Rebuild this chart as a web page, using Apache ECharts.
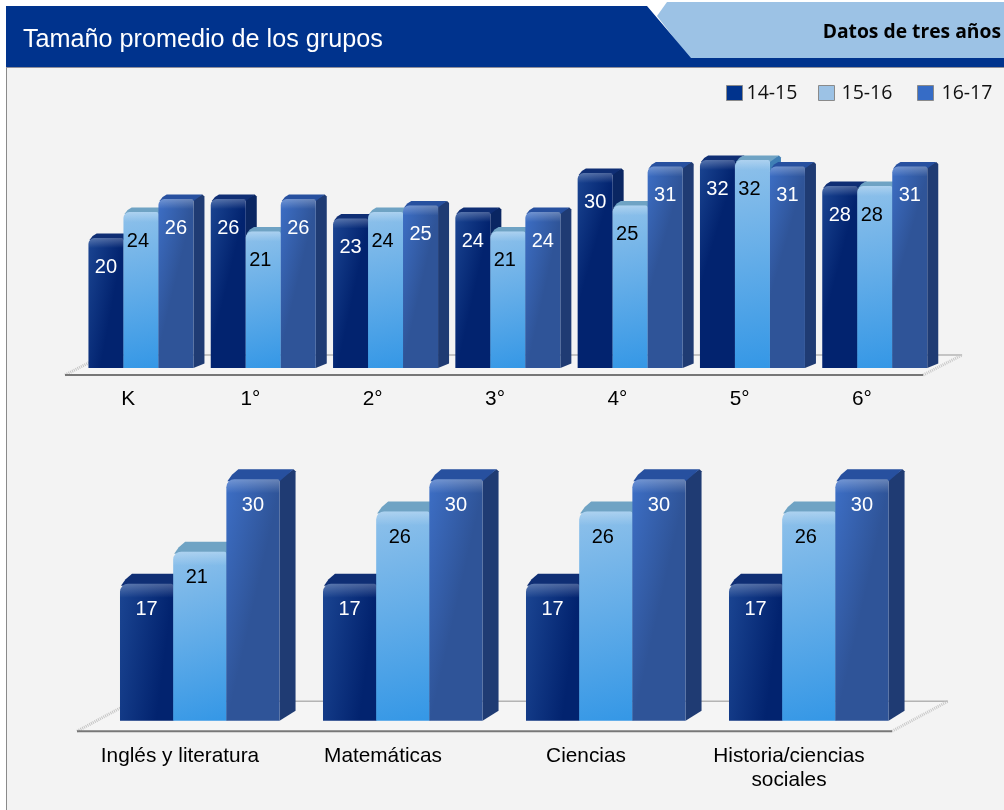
<!DOCTYPE html>
<html><head><meta charset="utf-8">
<style>html,body{margin:0;padding:0;background:#fff}#c{width:1004px;height:810px}</style>
<script src="https://cdn.jsdelivr.net/npm/echarts@6/dist/echarts.min.js"></script>
</head><body><div id="c"></div>
<script>
const seriesNames = ['14-15','15-16','16-17'];
const gradeCategories = ['K','1°','2°','3°','4°','5°','6°'];
const grade1415 = [20,26,23,24,30,32,28];
const grade1516 = [24,21,24,21,25,32,28];
const grade1617 = [26,26,25,24,31,31,31];
const subjectCategories = ['Inglés y literatura','Matemáticas','Ciencias','Historia/ciencias\nsociales'];
const subject1415 = [17,17,17,17];
const subject1516 = [21,26,26,26];
const subject1617 = [30,30,30,30];

const FONT = '"Liberation Sans", Arial, sans-serif';
const lg = (x,y,x2,y2,a,b)=>({type:'linear',x,y,x2,y2,colorStops:[{offset:0,color:a},{offset:1,color:b}]});
const looks = [
 {front:lg(0,0,1,0.05,'#1b4592','#02236f'), top:'#0f2e74', side:'#0a2662', label:'#fff', legend:'#00338d', dx:0},
 {front:lg(0,0,1,1,'#8fc1ea','#3497e6'), top:'#6fa3c4', side:'#3f7fb5', label:'#000', legend:'#9cc2e5', dx:-3},
 {front:lg(0,0,1,0.05,'#3d6fc6','#2f5498'), top:'#27509f', side:'#1f3b73', label:'#fff', legend:'#366cc6', dx:0}
];

function barRenderer(s, cfg){
  return function(params, api){
    const i = api.value(0), v = api.value(1);
    const band = api.size([1,0])[0];
    const top = api.coord([i,v]), base = api.coord([i,0]);
    const w = band*cfg.width;
    const x = top[0] + band*cfg.offset + s*w;
    const y = top[1], b = base[1], h = b-y;
    const L = looks[s], dx = cfg.dx, dy = cfg.dy, rad = cfg.radius;
    const r = x+w;
    return {type:'group',children:[
      {type:'polygon',shape:{points:[[r,y],[r+dx-2,y-dy],[r+dx,y-dy+2],[r+dx,b-dy],[r,b]]},style:{fill:L.side}},
      {type:'polygon',shape:{points:[[x+1,y+2],[x+rad*0.7,y-dy*0.45],[x+dx*0.75,y-dy],[r+dx-2,y-dy],[r,y+2]]},style:{fill:L.top}},
      {type:'rect',shape:{x:x,y:y,width:w,height:h,r:[rad,2,0,0]},style:{fill:L.front}},
      {type:'rect',shape:{x:x,y:y,width:w,height:Math.min(h,cfg.glow),r:[rad,2,0,0]},
        style:{fill:lg(0,0,0,1,'rgba(255,255,255,0.28)','rgba(255,255,255,0)')}},
      {type:'text',style:{text:String(v),x:x+w/2+L.dx,y:y+cfg.labelDrop,align:'center',verticalAlign:'middle',
        fill:L.label,font:'20px '+FONT}}
    ]};
  };
}
function floorRenderer(cfg){
  return function(params, api){
    const cs = params.coordSys, yf = api.coord([0,0])[1]+cfg.front;
    const x0 = cs.x+cfg.left, x1 = cs.x+cs.width+cfg.right, dx=cfg.dx, dy=cfg.dy;
    return {type:'group',children:[
      {type:'polygon',shape:{points:[[x0,yf],[x0+dx,yf-dy],[x1+dx,yf-dy],[x1,yf]]},style:{fill:'#f5f5f5'}},
      {type:'line',shape:{x1:x0+dx,y1:yf-dy,x2:x1+dx,y2:yf-dy},style:{stroke:'#b4b4b4',lineWidth:1.5}},
      {type:'line',shape:{x1:x0,y1:yf,x2:x0+dx,y2:yf-dy},style:{stroke:'#c4c4c4',lineWidth:3,lineDash:[1,1]}},
      {type:'line',shape:{x1:x1,y1:yf,x2:x1+dx,y2:yf-dy},style:{stroke:'#c8c8c8',lineWidth:3,lineDash:[1,1]}},
      {type:'line',shape:{x1:x0,y1:yf,x2:x1,y2:yf},style:{stroke:'#777',lineWidth:2}}
    ]};
  };
}
const topCfg = {width:0.2862,offset:-0.3246,dx:11,dy:4.5,labelDrop:29,radius:6,glow:10};
const botCfg = {width:0.262,offset:-0.2956,dx:16,dy:10,labelDrop:26,radius:8,glow:14};
const topFloor = {front:7,left:-2,right:0,dx:39,dy:20};
const botFloor = {front:10.5,left:-1.5,right:1.5,dx:56,dy:30};

const topData = [grade1415,grade1516,grade1617];
const botData = [subject1415,subject1516,subject1617];
function panelSeries(data, idx, cfg, floorCfg){
  const out = [{type:'custom',name:'floor',xAxisIndex:idx,yAxisIndex:idx,data:[[0,0]],encode:{x:0,y:1},
    renderItem:floorRenderer(floorCfg),silent:true,z:1,clip:false}];
  data.forEach((vals,s)=>out.push({
    type:'custom',name:seriesNames[s],xAxisIndex:idx,yAxisIndex:idx,z:2+s,clip:false,
    itemStyle:{color:looks[s].legend},encode:{x:0,y:1},
    data:vals.map((v,i)=>[i,v]),renderItem:barRenderer(s,cfg)
  }));
  return out;
}
const axisX = (cats,idx,margin)=>({type:'category',gridIndex:idx,data:cats,axisLine:{show:false},axisTick:{show:false},
  axisLabel:{color:'#000',fontFamily:FONT,fontSize:20.8,margin:margin,lineHeight:24,interval:0}});
const axisY = idx=>({type:'value',gridIndex:idx,min:0,max:35,show:false});

const legendLeft = [721,813,912];
const legendTextPad = [-1,2,3];

const chart = echarts.init(document.getElementById('c'),null,{renderer:'canvas'});
chart.setOption({
  animation:false,
  backgroundColor:'#ffffff',
  graphic:[
    {type:'rect',silent:true,z:0,shape:{x:6,y:60,width:998,height:750},style:{fill:'#f3f3f3'}},
    {type:'line',silent:true,z:0,shape:{x1:6.5,y1:60,x2:6.5,y2:810},style:{stroke:'#8a8a8a',lineWidth:1}},
    {type:'polygon',silent:true,z:0,shape:{points:[[657,16],[667,2],[1004,2],[1004,60],[691,60]]},style:{fill:'#9cc2e5'}},
    {type:'polygon',silent:true,z:0,shape:{points:[[6,6],[647,6],[691,58],[1004,58],[1004,67],[6,67]]},style:{fill:'#00338d'}},
    {type:'line',silent:true,z:0,shape:{x1:6,y1:67.5,x2:1004,y2:67.5},style:{stroke:'#8f8f9a',lineWidth:1}}
  ],
  title:[
    {text:'Tamaño promedio de los grupos',left:23,top:28,textStyle:{color:'#fff',fontFamily:FONT,fontSize:25.2,fontWeight:'normal'},padding:0},
    {text:'Datos de tres años',right:3,top:23,textStyle:{color:'#000',fontFamily:'"Open Sans", sans-serif',fontSize:19.3,fontWeight:'bold'},padding:0}
  ],
  legend:seriesNames.map((n,k)=>({data:[n],left:legendLeft[k],top:78,itemWidth:16,itemHeight:15,icon:'rect',
    selectedMode:false,
    itemStyle:{borderColor:'#8a8a8a',borderWidth:1},
    textStyle:{color:'#111',fontFamily:'"Open Sans", sans-serif',fontSize:19.5,padding:[0,0,0,legendTextPad[k]]}})),
  grid:[
    {left:67,width:856.1,top:140.5,height:227.5},
    {left:78.5,width:812,top:439,height:281.7}
  ],
  xAxis:[axisX(gradeCategories,0,19),axisX(subjectCategories,1,24)],
  yAxis:[axisY(0),axisY(1)],
  series:[...panelSeries(topData,0,topCfg,topFloor),...panelSeries(botData,1,botCfg,botFloor)]
});
</script></body></html>
